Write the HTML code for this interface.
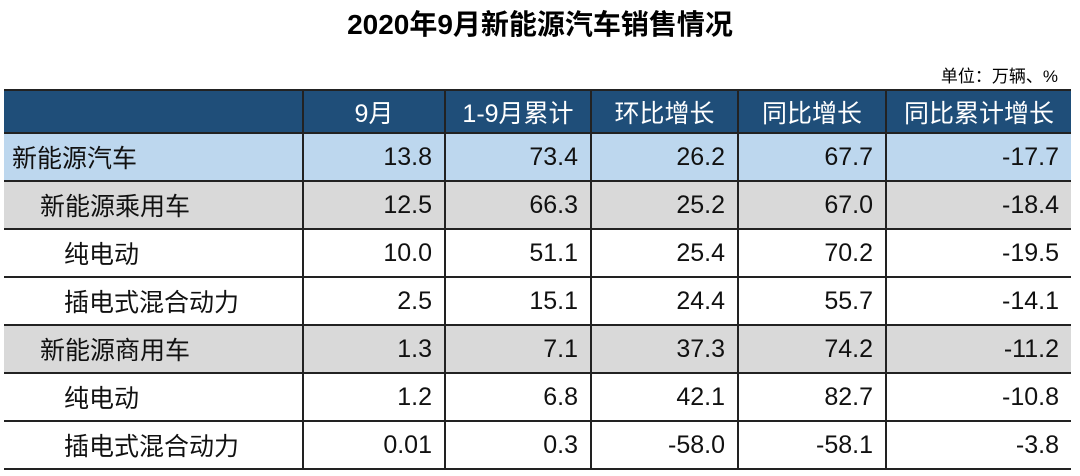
<!DOCTYPE html>
<html><head><meta charset="utf-8"><style>
body{margin:0;width:1080px;height:476px;background:#fff;font-family:"Liberation Sans","Noto Sans CJK SC",sans-serif;position:relative;overflow:hidden}
#title{position:absolute;top:3px;left:0;width:1080px;text-align:center;font-size:28px;font-weight:bold;color:#000}
#unit{position:absolute;top:62px;right:22px;font-size:17px;color:#000}
table{position:absolute;left:4px;top:89px;border-collapse:collapse;table-layout:fixed}
td,th{height:46px;padding:0 12px;font-size:25px;border-top:2px solid #222;border-bottom:2px solid #222;border-left:2px solid #222;text-align:right;white-space:nowrap;color:#111}
td:first-child,th:first-child{border-left:none;text-align:left;padding-left:8px}
th{background:#1f4e79;color:#fff;font-weight:normal;text-align:center;height:41px}
th:first-child{text-align:center}
tr.l1 td{background:#bdd7ee}
tr.l2 td{background:#d9d9d9}
.i1{padding-left:36px!important}
.i2{padding-left:60px!important}
</style></head><body>
<div id="title">2020年9月新能源汽车销售情况</div>
<div id="unit">单位：万辆、%</div>
<table>
<colgroup><col style="width:299px"><col style="width:142px"><col style="width:146px"><col style="width:147px"><col style="width:148px"><col style="width:185px"></colgroup>
<tr><th></th><th>9月</th><th>1-9月累计</th><th>环比增长</th><th>同比增长</th><th>同比累计增长</th></tr>
<tr class="l1"><td>新能源汽车</td><td>13.8</td><td>73.4</td><td>26.2</td><td>67.7</td><td>-17.7</td></tr>
<tr class="l2"><td class="i1">新能源乘用车</td><td>12.5</td><td>66.3</td><td>25.2</td><td>67.0</td><td>-18.4</td></tr>
<tr><td class="i2">纯电动</td><td>10.0</td><td>51.1</td><td>25.4</td><td>70.2</td><td>-19.5</td></tr>
<tr><td class="i2">插电式混合动力</td><td>2.5</td><td>15.1</td><td>24.4</td><td>55.7</td><td>-14.1</td></tr>
<tr class="l2"><td class="i1">新能源商用车</td><td>1.3</td><td>7.1</td><td>37.3</td><td>74.2</td><td>-11.2</td></tr>
<tr><td class="i2">纯电动</td><td>1.2</td><td>6.8</td><td>42.1</td><td>82.7</td><td>-10.8</td></tr>
<tr><td class="i2">插电式混合动力</td><td>0.01</td><td>0.3</td><td>-58.0</td><td>-58.1</td><td>-3.8</td></tr>
</table>
</body></html>
